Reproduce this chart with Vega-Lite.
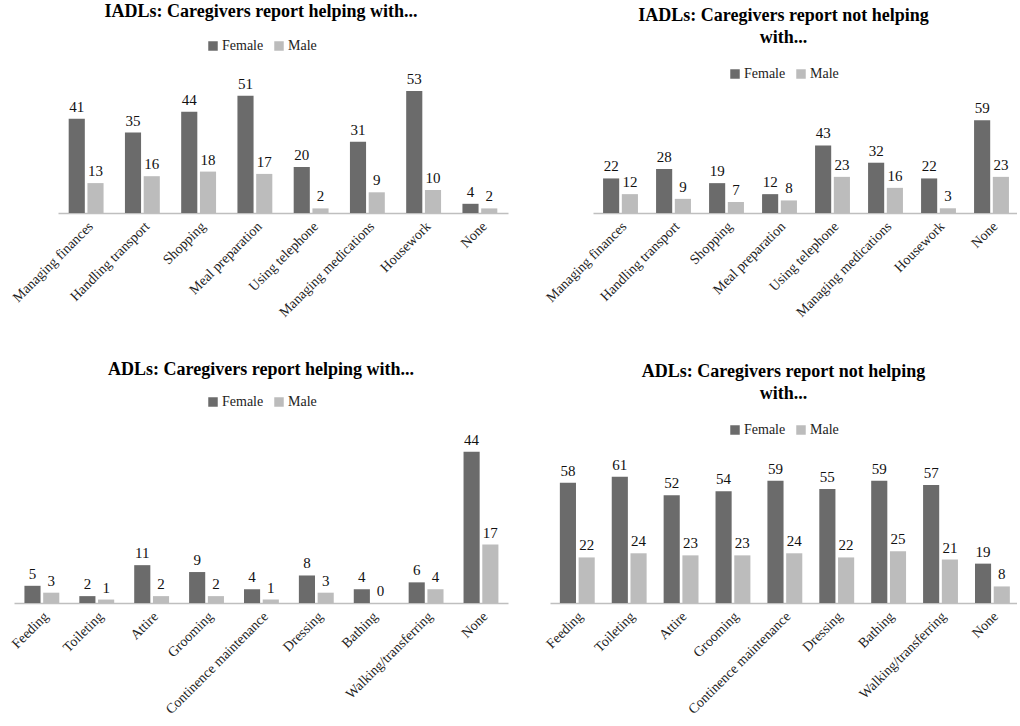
{
  "$schema": "https://vega.github.io/schema/vega-lite/v6.json",
  "background": "white",
  "padding": {"left": 9, "top": 3, "right": 0, "bottom": 0},
  "config": {
    "view": {"stroke": null},
    "font": "Times New Roman",
    "title": {"font": "Times New Roman", "fontSize": 18, "fontWeight": "bold", "color": "black", "anchor": "middle", "lineHeight": 22},
    "axis": {"labelFont": "Times New Roman", "labelFontSize": 14, "labelColor": "#222", "domainColor": "#bfbfbf", "domainWidth": 1.5, "ticks": false, "grid": false, "title": null, "labelAngle": -45, "labelPadding": 6},
    "legend": {"orient": "top", "direction": "horizontal", "title": null, "labelFont": "Times New Roman", "labelFontSize": 14, "labelColor": "#222", "symbolType": "square", "symbolSize": 90, "symbolStrokeWidth": 0, "columnPadding": 8, "labelOffset": 2, "layout": {"top": {"anchor": "middle"}}}
  },
  "datasets": {
    "d": [
      {"panel": "p1", "task": "Managing finances", "sex": "Female", "n": 41},
      {"panel": "p1", "task": "Managing finances", "sex": "Male", "n": 13},
      {"panel": "p1", "task": "Handling transport", "sex": "Female", "n": 35},
      {"panel": "p1", "task": "Handling transport", "sex": "Male", "n": 16},
      {"panel": "p1", "task": "Shopping", "sex": "Female", "n": 44},
      {"panel": "p1", "task": "Shopping", "sex": "Male", "n": 18},
      {"panel": "p1", "task": "Meal preparation", "sex": "Female", "n": 51},
      {"panel": "p1", "task": "Meal preparation", "sex": "Male", "n": 17},
      {"panel": "p1", "task": "Using telephone", "sex": "Female", "n": 20},
      {"panel": "p1", "task": "Using telephone", "sex": "Male", "n": 2},
      {"panel": "p1", "task": "Managing medications", "sex": "Female", "n": 31},
      {"panel": "p1", "task": "Managing medications", "sex": "Male", "n": 9},
      {"panel": "p1", "task": "Housework", "sex": "Female", "n": 53},
      {"panel": "p1", "task": "Housework", "sex": "Male", "n": 10},
      {"panel": "p1", "task": "None", "sex": "Female", "n": 4},
      {"panel": "p1", "task": "None", "sex": "Male", "n": 2},
      {"panel": "p2", "task": "Managing finances", "sex": "Female", "n": 22},
      {"panel": "p2", "task": "Managing finances", "sex": "Male", "n": 12},
      {"panel": "p2", "task": "Handling transport", "sex": "Female", "n": 28},
      {"panel": "p2", "task": "Handling transport", "sex": "Male", "n": 9},
      {"panel": "p2", "task": "Shopping", "sex": "Female", "n": 19},
      {"panel": "p2", "task": "Shopping", "sex": "Male", "n": 7},
      {"panel": "p2", "task": "Meal preparation", "sex": "Female", "n": 12},
      {"panel": "p2", "task": "Meal preparation", "sex": "Male", "n": 8},
      {"panel": "p2", "task": "Using telephone", "sex": "Female", "n": 43},
      {"panel": "p2", "task": "Using telephone", "sex": "Male", "n": 23},
      {"panel": "p2", "task": "Managing medications", "sex": "Female", "n": 32},
      {"panel": "p2", "task": "Managing medications", "sex": "Male", "n": 16},
      {"panel": "p2", "task": "Housework", "sex": "Female", "n": 22},
      {"panel": "p2", "task": "Housework", "sex": "Male", "n": 3},
      {"panel": "p2", "task": "None", "sex": "Female", "n": 59},
      {"panel": "p2", "task": "None", "sex": "Male", "n": 23},
      {"panel": "p3", "task": "Feeding", "sex": "Female", "n": 5},
      {"panel": "p3", "task": "Feeding", "sex": "Male", "n": 3},
      {"panel": "p3", "task": "Toileting", "sex": "Female", "n": 2},
      {"panel": "p3", "task": "Toileting", "sex": "Male", "n": 1},
      {"panel": "p3", "task": "Attire", "sex": "Female", "n": 11},
      {"panel": "p3", "task": "Attire", "sex": "Male", "n": 2},
      {"panel": "p3", "task": "Grooming", "sex": "Female", "n": 9},
      {"panel": "p3", "task": "Grooming", "sex": "Male", "n": 2},
      {"panel": "p3", "task": "Continence maintenance", "sex": "Female", "n": 4},
      {"panel": "p3", "task": "Continence maintenance", "sex": "Male", "n": 1},
      {"panel": "p3", "task": "Dressing", "sex": "Female", "n": 8},
      {"panel": "p3", "task": "Dressing", "sex": "Male", "n": 3},
      {"panel": "p3", "task": "Bathing", "sex": "Female", "n": 4},
      {"panel": "p3", "task": "Bathing", "sex": "Male", "n": 0},
      {"panel": "p3", "task": "Walking/transferring", "sex": "Female", "n": 6},
      {"panel": "p3", "task": "Walking/transferring", "sex": "Male", "n": 4},
      {"panel": "p3", "task": "None", "sex": "Female", "n": 44},
      {"panel": "p3", "task": "None", "sex": "Male", "n": 17},
      {"panel": "p4", "task": "Feeding", "sex": "Female", "n": 58},
      {"panel": "p4", "task": "Feeding", "sex": "Male", "n": 22},
      {"panel": "p4", "task": "Toileting", "sex": "Female", "n": 61},
      {"panel": "p4", "task": "Toileting", "sex": "Male", "n": 24},
      {"panel": "p4", "task": "Attire", "sex": "Female", "n": 52},
      {"panel": "p4", "task": "Attire", "sex": "Male", "n": 23},
      {"panel": "p4", "task": "Grooming", "sex": "Female", "n": 54},
      {"panel": "p4", "task": "Grooming", "sex": "Male", "n": 23},
      {"panel": "p4", "task": "Continence maintenance", "sex": "Female", "n": 59},
      {"panel": "p4", "task": "Continence maintenance", "sex": "Male", "n": 24},
      {"panel": "p4", "task": "Dressing", "sex": "Female", "n": 55},
      {"panel": "p4", "task": "Dressing", "sex": "Male", "n": 22},
      {"panel": "p4", "task": "Bathing", "sex": "Female", "n": 59},
      {"panel": "p4", "task": "Bathing", "sex": "Male", "n": 25},
      {"panel": "p4", "task": "Walking/transferring", "sex": "Female", "n": 57},
      {"panel": "p4", "task": "Walking/transferring", "sex": "Male", "n": 21},
      {"panel": "p4", "task": "None", "sex": "Female", "n": 19},
      {"panel": "p4", "task": "None", "sex": "Male", "n": 8}
    ]
  },
  "resolve": {"legend": {"color": "independent"}},
  "spacing": 41,
  "vconcat": [
    {
      "resolve": {"legend": {"color": "independent"}},
      "bounds": "flush",
      "spacing": 42,
      "hconcat": [
        {
          "title": {"text": "IADLs: Caregivers report helping with...", "offset": 18},
          "width": 494, "height": 138,
          "data": {"name": "d"},
          "transform": [{"filter": "datum.panel === 'p1'"}],
          "encoding": {
            "x": {"field": "task", "type": "nominal", "sort": ["Managing finances", "Handling transport", "Shopping", "Meal preparation", "Using telephone", "Managing medications", "Housework", "None"], "scale": {"range": [44, 494], "paddingInner": 0.38, "paddingOuter": 0.19}},
            "xOffset": {"field": "sex", "type": "nominal", "scale": {"paddingInner": 0.14}},
            "y": {"field": "n", "type": "quantitative", "axis": null, "scale": {"domain": [0, 60], "nice": false}}
          },
          "layer": [
            {"mark": {"type": "bar"}, "encoding": {"color": {"field": "sex", "type": "nominal", "scale": {"domain": ["Female", "Male"], "range": ["#6b6b6b", "#bcbcbc"]}, "legend": {"offset": 22}}}},
            {"mark": {"type": "text", "baseline": "alphabetic", "dy": -7, "fontSize": 15, "color": "#111"}, "encoding": {"text": {"field": "n", "type": "quantitative"}}}
          ]
        },
        {
          "title": {"text": ["IADLs: Caregivers report not helping", "with..."], "offset": 20},
          "width": 467, "height": 138,
          "data": {"name": "d"},
          "transform": [{"filter": "datum.panel === 'p2'"}],
          "encoding": {
            "x": {"field": "task", "type": "nominal", "sort": ["Managing finances", "Handling transport", "Shopping", "Meal preparation", "Using telephone", "Managing medications", "Housework", "None"], "scale": {"range": [43, 467], "paddingInner": 0.38, "paddingOuter": 0.19}},
            "xOffset": {"field": "sex", "type": "nominal", "scale": {"paddingInner": 0.14}},
            "y": {"field": "n", "type": "quantitative", "axis": null, "scale": {"domain": [0, 70], "nice": false, "range": [138, 28]}}
          },
          "layer": [
            {"mark": {"type": "bar"}, "encoding": {"color": {"field": "sex", "type": "nominal", "scale": {"domain": ["Female", "Male"], "range": ["#6b6b6b", "#bcbcbc"]}, "legend": {"offset": -6}}}},
            {"mark": {"type": "text", "baseline": "alphabetic", "dy": -7, "fontSize": 15, "color": "#111"}, "encoding": {"text": {"field": "n", "type": "quantitative"}}}
          ]
        }
      ]
    },
    {
      "resolve": {"legend": {"color": "independent"}},
      "bounds": "flush",
      "spacing": 42,
      "hconcat": [
        {
          "title": {"text": "ADLs: Caregivers report helping with...", "offset": 16},
          "width": 494, "height": 172,
          "data": {"name": "d"},
          "transform": [{"filter": "datum.panel === 'p3'"}],
          "encoding": {
            "x": {"field": "task", "type": "nominal", "sort": ["Feeding", "Toileting", "Attire", "Grooming", "Continence maintenance", "Dressing", "Bathing", "Walking/transferring", "None"], "scale": {"paddingInner": 0.38, "paddingOuter": 0.19}},
            "xOffset": {"field": "sex", "type": "nominal", "scale": {"paddingInner": 0.14}},
            "y": {"field": "n", "type": "quantitative", "axis": null, "scale": {"domain": [0, 50], "nice": false}}
          },
          "layer": [
            {"mark": {"type": "bar"}, "encoding": {"color": {"field": "sex", "type": "nominal", "scale": {"domain": ["Female", "Male"], "range": ["#6b6b6b", "#bcbcbc"]}, "legend": {"offset": 22}}}},
            {"mark": {"type": "text", "baseline": "alphabetic", "dy": -7, "fontSize": 15, "color": "#111"}, "encoding": {"text": {"field": "n", "type": "quantitative"}}}
          ]
        },
        {
          "title": {"text": ["ADLs: Caregivers report not helping", "with..."], "offset": 20},
          "width": 467, "height": 172,
          "data": {"name": "d"},
          "transform": [{"filter": "datum.panel === 'p4'"}],
          "encoding": {
            "x": {"field": "task", "type": "nominal", "sort": ["Feeding", "Toileting", "Attire", "Grooming", "Continence maintenance", "Dressing", "Bathing", "Walking/transferring", "None"], "scale": {"paddingInner": 0.38, "paddingOuter": 0.19}},
            "xOffset": {"field": "sex", "type": "nominal", "scale": {"paddingInner": 0.14}},
            "y": {"field": "n", "type": "quantitative", "axis": null, "scale": {"domain": [0, 70], "nice": false, "range": [172, 27]}}
          },
          "layer": [
            {"mark": {"type": "bar"}, "encoding": {"color": {"field": "sex", "type": "nominal", "scale": {"domain": ["Female", "Male"], "range": ["#6b6b6b", "#bcbcbc"]}, "legend": {"offset": -6}}}},
            {"mark": {"type": "text", "baseline": "alphabetic", "dy": -7, "fontSize": 15, "color": "#111"}, "encoding": {"text": {"field": "n", "type": "quantitative"}}}
          ]
        }
      ]
    }
  ]
}
